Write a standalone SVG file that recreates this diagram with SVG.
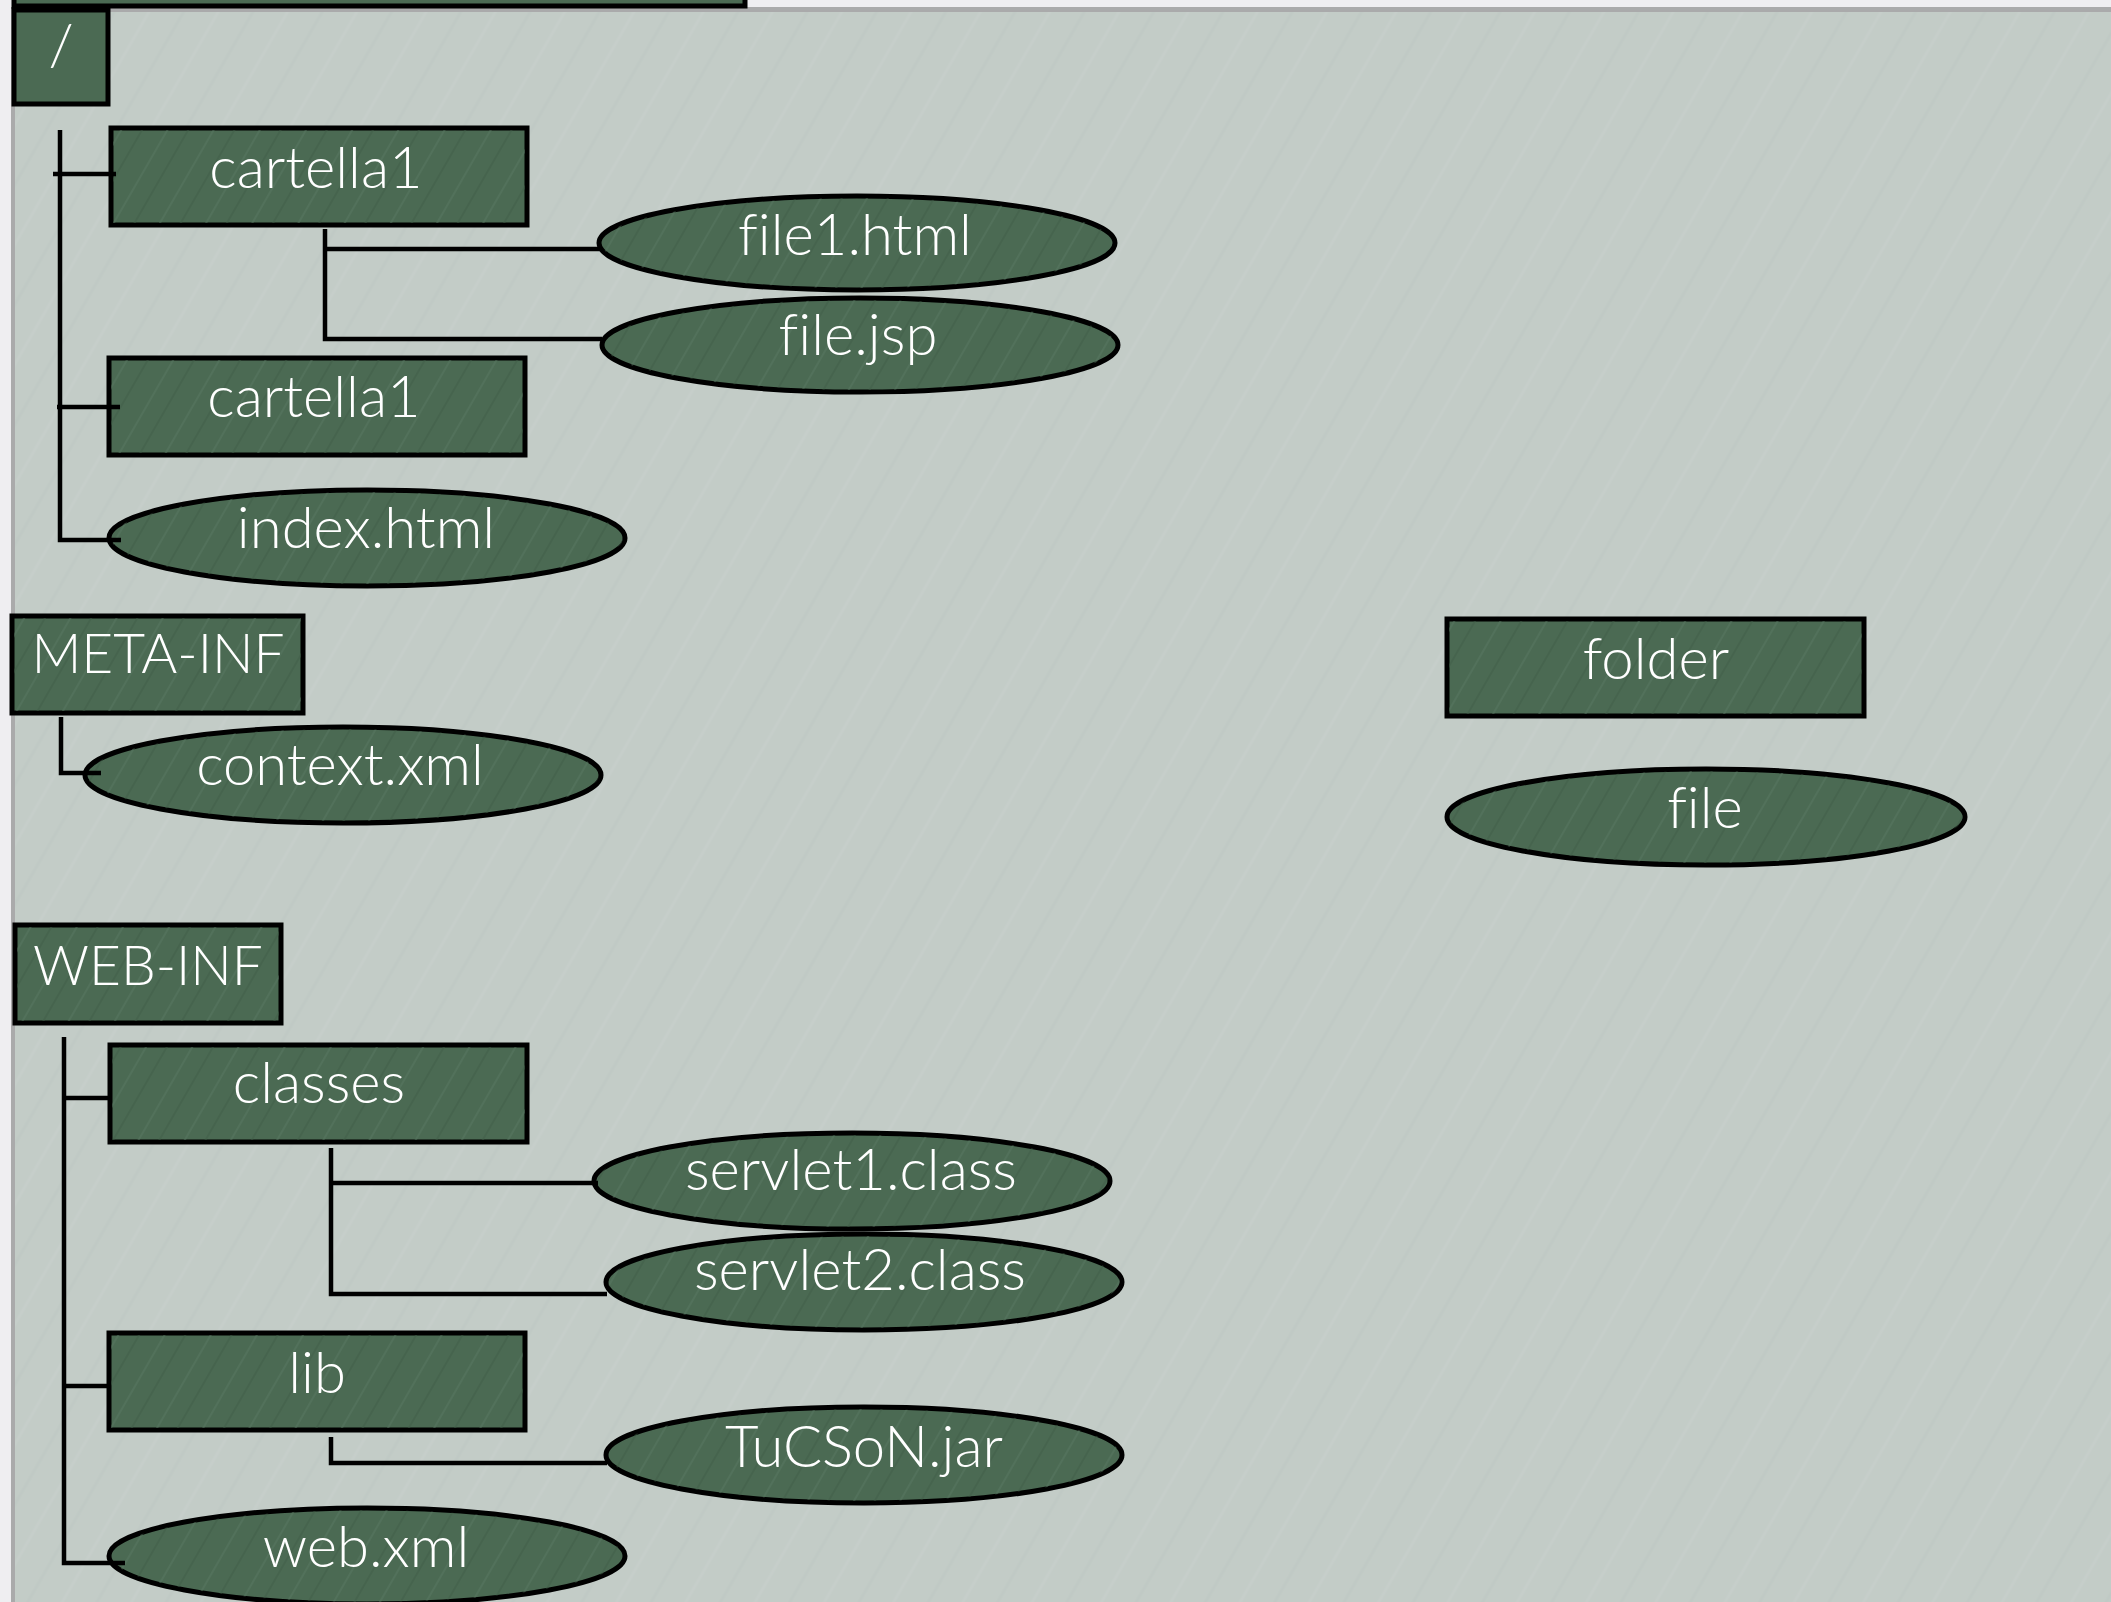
<svg xmlns="http://www.w3.org/2000/svg" width="2111" height="1602" viewBox="0 0 2111 1602">
<style>
.box{fill:#4b6a53;stroke:#000;stroke-width:5}
.tex{fill:url(#streak);stroke:none}
.lbl{font-family:Lato,"Noto Sans","Liberation Sans",sans-serif;font-size:58px;font-weight:300;fill:#fff;text-anchor:middle;font-variant-ligatures:none;font-feature-settings:"liga" 0}
.con{fill:none;stroke:#000;stroke-width:4.5;stroke-linecap:butt;stroke-linejoin:miter}
</style>
<defs>
<pattern id="streak" width="40" height="40" patternUnits="userSpaceOnUse" patternTransform="rotate(-60)">
<line x1="0" y1="10" x2="40" y2="10" stroke="#5a7a62" stroke-width="2" opacity="0.45"/>
<line x1="0" y1="28" x2="40" y2="28" stroke="#3f5c47" stroke-width="2" opacity="0.45"/>
</pattern>
<pattern id="bgstreak" width="60" height="60" patternUnits="userSpaceOnUse" patternTransform="rotate(-60)">
<line x1="0" y1="15" x2="60" y2="15" stroke="#ccd4cf" stroke-width="3" opacity="0.3"/>
<line x1="0" y1="45" x2="60" y2="45" stroke="#bac4bf" stroke-width="3" opacity="0.3"/>
</pattern>
</defs>
<rect x="0" y="0" width="2111" height="1602" fill="#efeef1"/>
<rect x="11" y="7" width="2100" height="1595" fill="#aaaaab"/>
<rect x="15" y="12" width="2096" height="1590" fill="#c3ccc7"/>
<rect x="15" y="12" width="2096" height="1590" fill="url(#bgstreak)"/>
<g id="top-bar">
<rect class="box" x="14" y="-20" width="731" height="26"/>
</g>
<g id="node-root">
<rect class="box" x="14" y="10" width="94" height="94"/>
<text class="lbl" x="61" y="65">/</text>
</g>
<g id="node-cartella1-a">
<rect class="box" x="111" y="128" width="416" height="97"/>
<rect class="tex" x="113" y="130" width="412" height="93"/>
<text class="lbl" x="316" y="188">cartella1</text>
</g>
<g id="node-file1-html">
<ellipse class="box" cx="857" cy="243" rx="258" ry="47"/>
<ellipse class="tex" cx="857" cy="243" rx="256" ry="45"/>
<text class="lbl" x="855" y="255">file1.html</text>
</g>
<g id="node-file-jsp">
<ellipse class="box" cx="860" cy="345" rx="258" ry="47"/>
<ellipse class="tex" cx="860" cy="345" rx="256" ry="45"/>
<text class="lbl" x="858" y="355">file.jsp</text>
</g>
<g id="node-cartella1-b">
<rect class="box" x="109" y="358" width="416" height="97"/>
<rect class="tex" x="111" y="360" width="412" height="93"/>
<text class="lbl" x="314" y="417">cartella1</text>
</g>
<g id="node-index-html">
<ellipse class="box" cx="367" cy="538" rx="258" ry="48"/>
<ellipse class="tex" cx="367" cy="538" rx="256" ry="46"/>
<text class="lbl" x="366" y="548">index.html</text>
</g>
<g id="node-meta-inf">
<rect class="box" x="12" y="616" width="291" height="97"/>
<rect class="tex" x="14" y="618" width="287" height="93"/>
<text class="lbl" x="158" y="673" style="font-size:55px">META-INF</text>
</g>
<g id="node-context-xml">
<ellipse class="box" cx="343" cy="775" rx="258" ry="48"/>
<ellipse class="tex" cx="343" cy="775" rx="256" ry="46"/>
<text class="lbl" x="340" y="785">context.xml</text>
</g>
<g id="node-folder">
<rect class="box" x="1447" y="619" width="417" height="97"/>
<rect class="tex" x="1449" y="621" width="413" height="93"/>
<text class="lbl" x="1656" y="679">folder</text>
</g>
<g id="node-file">
<ellipse class="box" cx="1706" cy="817" rx="259" ry="48"/>
<ellipse class="tex" cx="1706" cy="817" rx="257" ry="46"/>
<text class="lbl" x="1705" y="828">file</text>
</g>
<g id="node-web-inf">
<rect class="box" x="15" y="925" width="266" height="98"/>
<rect class="tex" x="17" y="927" width="262" height="94"/>
<text class="lbl" x="148" y="985" style="font-size:55px">WEB-INF</text>
</g>
<g id="node-classes">
<rect class="box" x="110" y="1045" width="417" height="97"/>
<rect class="tex" x="112" y="1047" width="413" height="93"/>
<text class="lbl" x="319" y="1103">classes</text>
</g>
<g id="node-servlet1-class">
<ellipse class="box" cx="852" cy="1181" rx="258" ry="48"/>
<ellipse class="tex" cx="852" cy="1181" rx="256" ry="46"/>
<text class="lbl" x="851" y="1190">servlet1.class</text>
</g>
<g id="node-servlet2-class">
<ellipse class="box" cx="864" cy="1282" rx="258" ry="48"/>
<ellipse class="tex" cx="864" cy="1282" rx="256" ry="46"/>
<text class="lbl" x="860" y="1290">servlet2.class</text>
</g>
<g id="node-lib">
<rect class="box" x="109" y="1333" width="416" height="97"/>
<rect class="tex" x="111" y="1335" width="412" height="93"/>
<text class="lbl" x="317" y="1393">lib</text>
</g>
<g id="node-tucson-jar">
<ellipse class="box" cx="864" cy="1455" rx="258" ry="48"/>
<ellipse class="tex" cx="864" cy="1455" rx="256" ry="46"/>
<text class="lbl" x="864" y="1467">TuCSoN.jar</text>
</g>
<g id="node-web-xml">
<ellipse class="box" cx="367" cy="1556" rx="258" ry="48"/>
<ellipse class="tex" cx="367" cy="1556" rx="256" ry="46"/>
<text class="lbl" x="366" y="1567">web.xml</text>
</g>
<g id="connectors">
<path class="con" d="M60 130 V540 H121"/>
<path class="con" d="M53 174 H116"/>
<path class="con" d="M57 407 H120"/>
<path class="con" d="M325 229 V339 H602"/>
<path class="con" d="M325 249 H600"/>
<path class="con" d="M61 717 V773 H101"/>
<path class="con" d="M64 1037 V1563 H125"/>
<path class="con" d="M64 1098 H110"/>
<path class="con" d="M64 1386 H109"/>
<path class="con" d="M331 1148 V1294 H607"/>
<path class="con" d="M331 1183 H598"/>
<path class="con" d="M331 1437 V1463 H607"/>
</g>
</svg>
